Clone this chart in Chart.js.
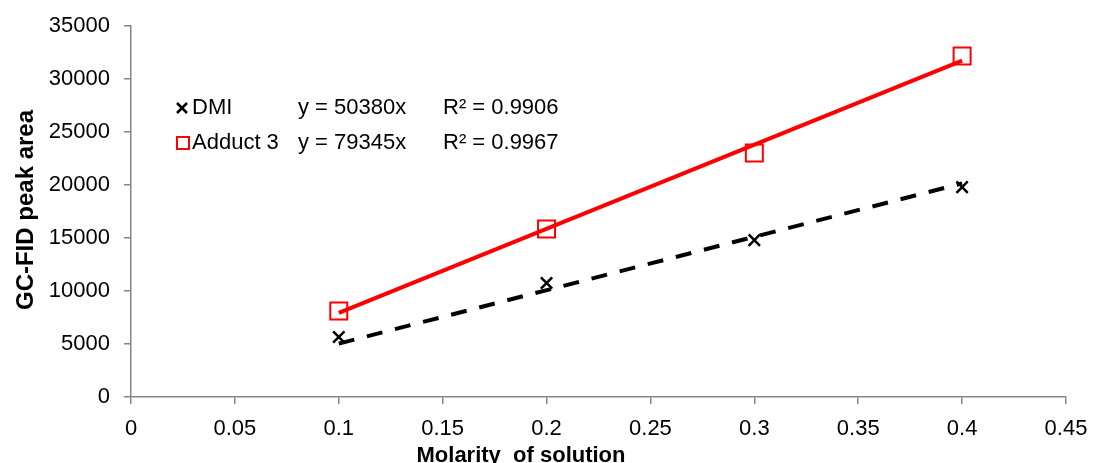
<!DOCTYPE html>
<html>
<head>
<meta charset="utf-8">
<script src="https://cdn.jsdelivr.net/npm/chart.js@4.4.0/dist/chart.umd.min.js"></script>
<style>
    html, body { margin: 0; padding: 0; background: #fff; }
    #wrap { width: 1093px; height: 463px; }
</style>
</head>
<body>
<div id="wrap"><canvas id="calib-chart"></canvas></div>
<script>
const molarity = [0.1, 0.2, 0.3, 0.4];
const dmiArea = [5660, 10750, 14800, 19800];
const adductArea = [8110, 15850, 23020, 32170];

// trendline ends
const trendX = [0.1, 0.4];
const dmiTrend = [5040, 20150];
const adductTrend = [7930, 31740];

const xTickValues = [0, 0.05, 0.1, 0.15, 0.2, 0.25, 0.3, 0.35, 0.4, 0.45];
const yTickValues = [0, 5000, 10000, 15000, 20000, 25000, 30000, 35000];

const legendRows = [
    { name: 'DMI', eq: 'y = 50380x', r2: 'R² = 0.9906' },
    { name: 'Adduct 3', eq: 'y = 79345x', r2: 'R² = 0.9967' },
];

const FONT = '"Liberation Sans", Arial, sans-serif';

const toPoints = (xs, ys) => xs.map((x, i) => ({ x, y: ys[i] }));

const textPlugin = {
    id: 'textPlugin',
    afterDraw(chart) {
        const c = chart.ctx;
        c.save();
        c.fillStyle = '#000';

        // axis titles
        c.textAlign = 'center';
        c.textBaseline = 'alphabetic';
        c.font = 'bold 22px ' + FONT;
        c.fillText('Molarity  of solution', 521, 462);
        c.save();
        c.translate(33, 210);
        c.rotate(-Math.PI / 2);
        c.font = 'bold 24px ' + FONT;
        c.fillText('GC-FID peak area', 0, 0);
        c.restore();

        // legend + trendline labels
        c.font = '22px ' + FONT;
        c.textAlign = 'left';
        c.textBaseline = 'middle';
        const rowY = [108, 143];
        legendRows.forEach((row, i) => {
            const y = rowY[i];
            if (i === 0) {
                c.strokeStyle = '#000';
                c.lineWidth = 2.5;
                c.beginPath();
                c.moveTo(177, y - 5); c.lineTo(187, y + 5);
                c.moveTo(187, y - 5); c.lineTo(177, y + 5);
                c.stroke();
            } else {
                c.strokeStyle = '#ff0000';
                c.lineWidth = 2;
                c.strokeRect(177, y - 6, 12, 12);
            }
            c.fillText(row.name, 192, y);
            c.fillText(row.eq, 298, y);
            c.fillText(row.r2, 443, y);
        });
        c.restore();
    }
};

new Chart(document.getElementById('calib-chart'), {
    type: 'scatter',
    data: {
        datasets: [{
            label: 'DMI',
            data: toPoints(molarity, dmiArea),
            pointStyle: 'crossRot',
            pointRadius: 8,
            borderColor: '#000',
            backgroundColor: '#000',
            borderWidth: 2.5,
            order: 2,
        }, {
            label: 'Adduct 3',
            data: toPoints(molarity, adductArea),
            pointStyle: 'rect',
            pointRadius: 12,
            borderColor: '#ff0000',
            backgroundColor: 'rgba(0,0,0,0)',
            borderWidth: 2,
            order: 2,
        }, {
            type: 'line',
            label: 'DMI trend',
            data: toPoints(trendX, dmiTrend),
            borderColor: '#000',
            borderWidth: 4,
            borderDash: [16, 13],
            pointRadius: 0,
            fill: false,
            order: 1,
        }, {
            type: 'line',
            label: 'Adduct 3 trend',
            data: toPoints(trendX, adductTrend),
            borderColor: '#ff0000',
            borderWidth: 4,
            pointRadius: 0,
            fill: false,
            order: 1,
        }]
    },
    options: {
        responsive: true,
        maintainAspectRatio: false,
        animation: false,
        layout: { padding: { top: 26, right: 27, left: 0, bottom: 0 } },
        scales: {
            x: {
                type: 'linear',
                min: 0,
                max: 0.45,
                afterBuildTicks: (scale) => { scale.ticks = xTickValues.map(v => ({ value: v })); },
                afterFit: (scale) => {
                    scale.height = 66;
                    scale.paddingLeft = 0;
                    scale.paddingRight = 0;
                },
                grid: { drawOnChartArea: false, drawTicks: true, tickLength: 7, color: '#868686', lineWidth: 1.5 },
                border: { color: '#868686', width: 1.5 },
                ticks: {
                    color: '#000',
                    padding: 12,
                    font: { family: FONT, size: 22 },
                    maxRotation: 0,
                    callback: (v) => String(+v.toFixed(2))
                }
            },
            y: {
                min: 0,
                max: 35000,
                afterBuildTicks: (scale) => { scale.ticks = yTickValues.map(v => ({ value: v })); },
                afterFit: (scale) => {
                    scale.width = 131;
                    scale.paddingTop = 0;
                    scale.paddingBottom = 0;
                },
                grid: { drawOnChartArea: false, drawTicks: true, tickLength: 7, color: '#868686', lineWidth: 1.5 },
                border: { color: '#868686', width: 1.5 },
                ticks: {
                    color: '#000',
                    padding: 14,
                    font: { family: FONT, size: 22 },
                    callback: (v) => String(v)
                }
            }
        },
        plugins: {
            legend: { display: false },
            tooltip: { enabled: false }
        }
    },
    plugins: [textPlugin]
});
</script>
</body>
</html>
